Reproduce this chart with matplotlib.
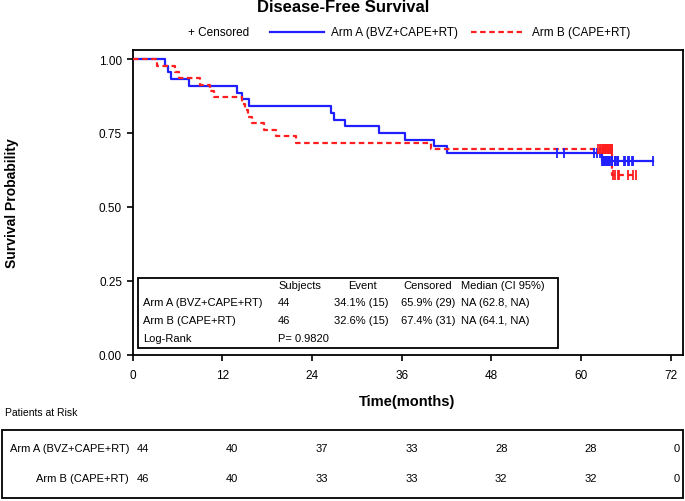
import matplotlib
matplotlib.use('Agg')
import matplotlib.pyplot as plt
import numpy as np
from matplotlib.lines import Line2D
from matplotlib.patches import Rectangle

plt.rcParams['font.family'] = ['Liberation Sans', 'DejaVu Sans']

# ---------------- data ----------------
title = 'Disease-Free Survival'
arm_labels = ['Arm A (BVZ+CAPE+RT)', 'Arm B (CAPE+RT)']

# Arm A: step times (months) and survival after each step
A_times = [0, 4.4, 4.7, 5.1, 7.5, 14.0, 14.6, 15.6, 26.6, 26.9, 28.4, 33.0, 36.5, 40.4, 42.1, 62.8]
A_surv = [1.0, 0.977, 0.955, 0.932, 0.909, 0.886, 0.864, 0.841, 0.818, 0.795, 0.773, 0.750,
          0.727, 0.705, 0.682, 0.655]
A_end = 69.6
A_censor = [56.8, 57.7, 61.7, 62.1, 62.5, 62.8, 62.9, 63.1, 63.2, 63.3, 63.5, 63.6, 63.7, 63.8,
            64.0, 64.1, 64.2, 64.5, 64.6, 64.7, 64.9, 65.0, 65.8, 65.9, 66.3, 66.4, 66.8, 66.9, 69.6]

# Arm B
B_times = [0, 3.3, 5.75, 6.2, 9.0, 10.4, 10.9, 14.7, 15.1, 15.5, 16.0, 17.6, 19.2, 21.9, 39.9, 64.2]
B_surv = [1.0, 0.978, 0.957, 0.935, 0.913, 0.891, 0.870, 0.848, 0.826, 0.804, 0.783, 0.761,
          0.739, 0.717, 0.696, 0.609]
B_end = 67.3
B_censor = [62.3, 62.5, 62.7, 62.9, 63.0, 63.0, 63.1, 63.2, 63.2, 63.3, 63.4, 63.4, 63.5, 63.6,
            63.6, 63.7, 63.8, 63.8, 63.9, 63.9, 64.0, 64.0, 64.1, 64.1,
            64.3, 64.5, 65.0, 65.1, 66.3, 67.0, 67.3]

x_ticks = [0, 12, 24, 36, 48, 60, 72]
y_ticks = [0.00, 0.25, 0.50, 0.75, 1.00]

summary_header = ['Subjects', 'Event', 'Censored', 'Median (CI 95%)']
summary_rows = [
    ['Arm A (BVZ+CAPE+RT)', '44', '34.1% (15)', '65.9% (29)', 'NA (62.8, NA)'],
    ['Arm B (CAPE+RT)', '46', '32.6% (15)', '67.4% (31)', 'NA (64.1, NA)'],
    ['Log-Rank', 'P= 0.9820', '', '', ''],
]

risk_A = [44, 40, 37, 33, 28, 28, 0]
risk_B = [46, 40, 33, 33, 32, 32, 0]

# ---------------- layout helpers ----------------
W, H = 685, 502
fig = plt.figure(figsize=(W / 100, H / 100), dpi=100)


def fx(x):
    return x / W


def fy(y):
    return 1 - y / H


L, R, T, B = 132.5, 682.5, 50.7, 355.5
ax = fig.add_axes([fx(L), fy(B), fx(R) - fx(L), fy(T) - fy(B)])
ax.set_xlim(0, 73.58)
ax.set_ylim(0, 1.0315)

blue = '#1f1fff'
red = '#ff1f1f'


def draw_arm(times, surv, end, censor, color, ls):
    xs = list(times) + [end]
    ys = list(surv) + [surv[-1]]
    ax.step(xs, ys, where='post', color=color, lw=1.6, ls=ls, zorder=3)
    idx = np.searchsorted(times, censor, side='right') - 1
    cy = np.array(surv)[idx]
    ax.plot(censor, cy, ls='none', marker='|', ms=6.5, mew=1.3, color=color, zorder=4)


draw_arm(A_times, A_surv, A_end, A_censor, blue, '-')
draw_arm(B_times, B_surv, B_end, B_censor, red, (0, (2.5, 1.6)))

ax.set_xticks(x_ticks)
ax.set_yticks(y_ticks)
ax.set_yticklabels([f'{v:.2f}' for v in y_ticks])
ax.tick_params(direction='out', length=4.5, width=1.2, labelsize=8.5)
ax.tick_params(axis='x', pad=6)
ax.tick_params(axis='y', pad=3)
for s in ax.spines.values():
    s.set_linewidth(1.3)
ax.set_xlabel('Time(months)', fontsize=10.5, fontweight='bold', labelpad=9)
fig.text(fx(12), fy(203), 'Survival Probability', rotation=90, ha='center', va='center',
         fontsize=10, fontweight='bold')

# title
fig.text(fx(343), fy(8), title, ha='center', va='center', fontsize=12, fontweight='bold')

# legend row
ly = 33
fig.text(fx(188), fy(ly), '+ Censored', ha='left', va='center', fontsize=8.5)
fig.add_artist(Line2D([fx(270), fx(324)], [fy(ly), fy(ly)], color=blue, lw=1.6))
fig.text(fx(331), fy(ly), arm_labels[0], ha='left', va='center', fontsize=8.5)
fig.add_artist(Line2D([fx(471), fx(522)], [fy(ly), fy(ly)], color=red, lw=1.6, ls=(0, (2.5, 1.6))))
fig.text(fx(532), fy(ly), arm_labels[1], ha='left', va='center', fontsize=8.5)

# summary table box
fig.add_artist(Rectangle((fx(138), fy(349)), fx(558) - fx(138), fy(279) - fy(349),
                         fill=True, facecolor='white', edgecolor='black', lw=1.3, zorder=5))
head_x = [278, 348, 403, 461]
data_x = [278, 334, 401, 461]
row_y = [303, 321, 339]
for hx, h in zip(head_x, summary_header):
    fig.text(fx(hx), fy(286), h, ha='left', va='center', fontsize=8, zorder=6)
for ry, row in zip(row_y, summary_rows):
    fig.text(fx(143), fy(ry), row[0], ha='left', va='center', fontsize=8, zorder=6)
    for dx, val in zip(data_x, row[1:]):
        if val:
            fig.text(fx(dx), fy(ry), val, ha='left', va='center', fontsize=8, zorder=6)

# patients at risk
fig.text(fx(5), fy(413), 'Patients at Risk', ha='left', va='center', fontsize=7.5)
fig.add_artist(Rectangle((fx(2), fy(499)), fx(683) - fx(2), fy(431) - fy(499),
                         fill=False, edgecolor='black', lw=1.3))
px_per = (670.7 - 132.5) / 72
for lab, risk, yy in [(arm_labels[0], risk_A, 449), (arm_labels[1], risk_B, 479)]:
    fig.text(fx(129), fy(yy), lab, ha='right', va='center', fontsize=8)
    for t, n in zip(x_ticks, risk):
        xc = min(132.5 + t * px_per + 10, 677)
        fig.text(fx(xc), fy(yy), str(n), ha='center', va='center', fontsize=8)

fig.savefig('out.png', dpi=100)
